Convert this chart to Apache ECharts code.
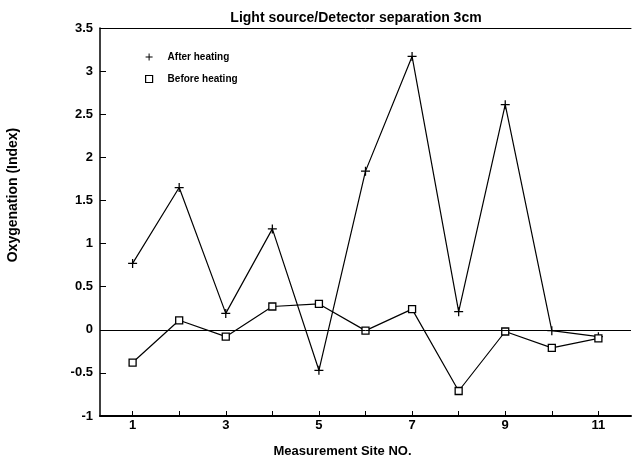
<!DOCTYPE html>
<html>
<head>
<meta charset="utf-8">
<script src="https://cdn.jsdelivr.net/npm/echarts@6/dist/echarts.min.js"></script>
<style>html,body{margin:0;padding:0;background:#fff}#c{width:633px;height:464px}</style>
</head>
<body>
<div id="c"></div>
<script>
const sites = [1, 2, 3, 4, 5, 6, 7, 8, 9, 10, 11];
const afterHeating = [0.77, 1.65, 0.19, 1.17, -0.47, 1.84, 3.17, 0.21, 2.61, -0.01, -0.08];
const beforeHeating = [-0.38, 0.11, -0.08, 0.27, 0.30, -0.01, 0.24, -0.71, -0.02, -0.21, -0.10];
const xTickValues = [1, 2, 3, 4, 5, 6, 7, 8, 9, 10, 11];
const xLabelValues = [1, 3, 5, 7, 9, 11];

const FONT = "'Liberation Sans', Arial, Helvetica, sans-serif";
const plusPath = 'path://M-0.7,-5 L0.7,-5 L0.7,-0.7 L5,-0.7 L5,0.7 L0.7,0.7 L0.7,5 L-0.7,5 L-0.7,0.7 L-5,0.7 L-5,-0.7 L-0.7,-0.7 Z';

const chart = echarts.init(document.getElementById('c'), null, {renderer: 'canvas'});
chart.setOption({
  animation: false,
  backgroundColor: '#fff',
  title: {
    text: 'Light source/Detector separation 3cm',
    left: 351, textAlign: 'center', top: 6,
    textStyle: {fontFamily: FONT, fontSize: 14, fontWeight: 'bold', color: '#000'}
  },
  legend: {
    orient: 'vertical', left: 145, top: 52, itemGap: 12, padding: 0,
    itemWidth: 7, itemHeight: 7,
    textStyle: {fontFamily: FONT, fontSize: 10, fontWeight: 'bold', color: '#000', padding: [0, 0, 0, 10]},
    data: [
      {name: 'After heating', icon: plusPath, itemStyle: {color: '#000', borderWidth: 0}},
      {name: 'Before heating', icon: 'rect', itemStyle: {color: '#fff', borderColor: '#000', borderWidth: 1.2}}
    ]
  },
  grid: {left: 100, right: 2, top: 28, bottom: 48, containLabel: false, outerBoundsMode: 'none'},
  xAxis: [{
    type: 'value', min: 0.3, max: 11.7,
    name: 'Measurement Site NO.', nameLocation: 'middle', nameGap: 29,
    nameTextStyle: {fontFamily: FONT, fontSize: 13, fontWeight: 'bold', color: '#000', padding: [0, 46, 0, 0]},
    axisLine: {show: true, onZero: false, lineStyle: {color: '#000', width: 2}},
    axisTick: {show: true, inside: true, length: 5, customValues: xTickValues, lineStyle: {color: '#000', width: 1}},
    axisLabel: {customValues: xLabelValues, fontFamily: FONT, fontSize: 13, fontWeight: 'bold', color: '#000', margin: 3},
    splitLine: {show: false}
  }, {
    type: 'value', min: 0.3, max: 11.7, position: 'top',
    axisLine: {show: true, onZero: false, lineStyle: {color: '#000', width: 1}},
    axisTick: {show: false}, axisLabel: {show: false}, splitLine: {show: false}
  }],
  yAxis: {
    type: 'value', min: -1, max: 3.5, interval: 0.5,
    name: 'Oxygenation (Index)', nameLocation: 'middle', nameGap: 80, nameRotate: 90,
    nameTextStyle: {fontFamily: FONT, fontSize: 14, fontWeight: 'bold', color: '#000', padding: [0, 0, 0, 54]},
    axisLine: {show: true, onZero: false, lineStyle: {color: '#000', width: 1.5}},
    axisTick: {show: true, inside: true, length: 6, lineStyle: {color: '#000', width: 1}},
    axisLabel: {fontFamily: FONT, fontSize: 13, fontWeight: 'bold', color: '#000', margin: 7},
    splitLine: {show: false}
  },
  series: [{
    name: 'After heating', type: 'line',
    data: sites.map((s, i) => [s, afterHeating[i]]),
    symbol: plusPath, symbolSize: 9,
    lineStyle: {color: '#000', width: 1.2},
    itemStyle: {color: '#000', borderWidth: 0},
    markLine: {
      silent: true, symbol: ['none', 'none'], label: {show: false},
      lineStyle: {color: '#000', width: 1, type: 'solid'},
      data: [{yAxis: 0}]
    }
  }, {
    name: 'Before heating', type: 'line',
    data: sites.map((s, i) => [s, beforeHeating[i]]),
    symbol: 'rect', symbolSize: 7,
    lineStyle: {color: '#000', width: 1.2},
    itemStyle: {color: '#fff', borderColor: '#000', borderWidth: 1.3}
  }]
});
</script>
</body>
</html>
